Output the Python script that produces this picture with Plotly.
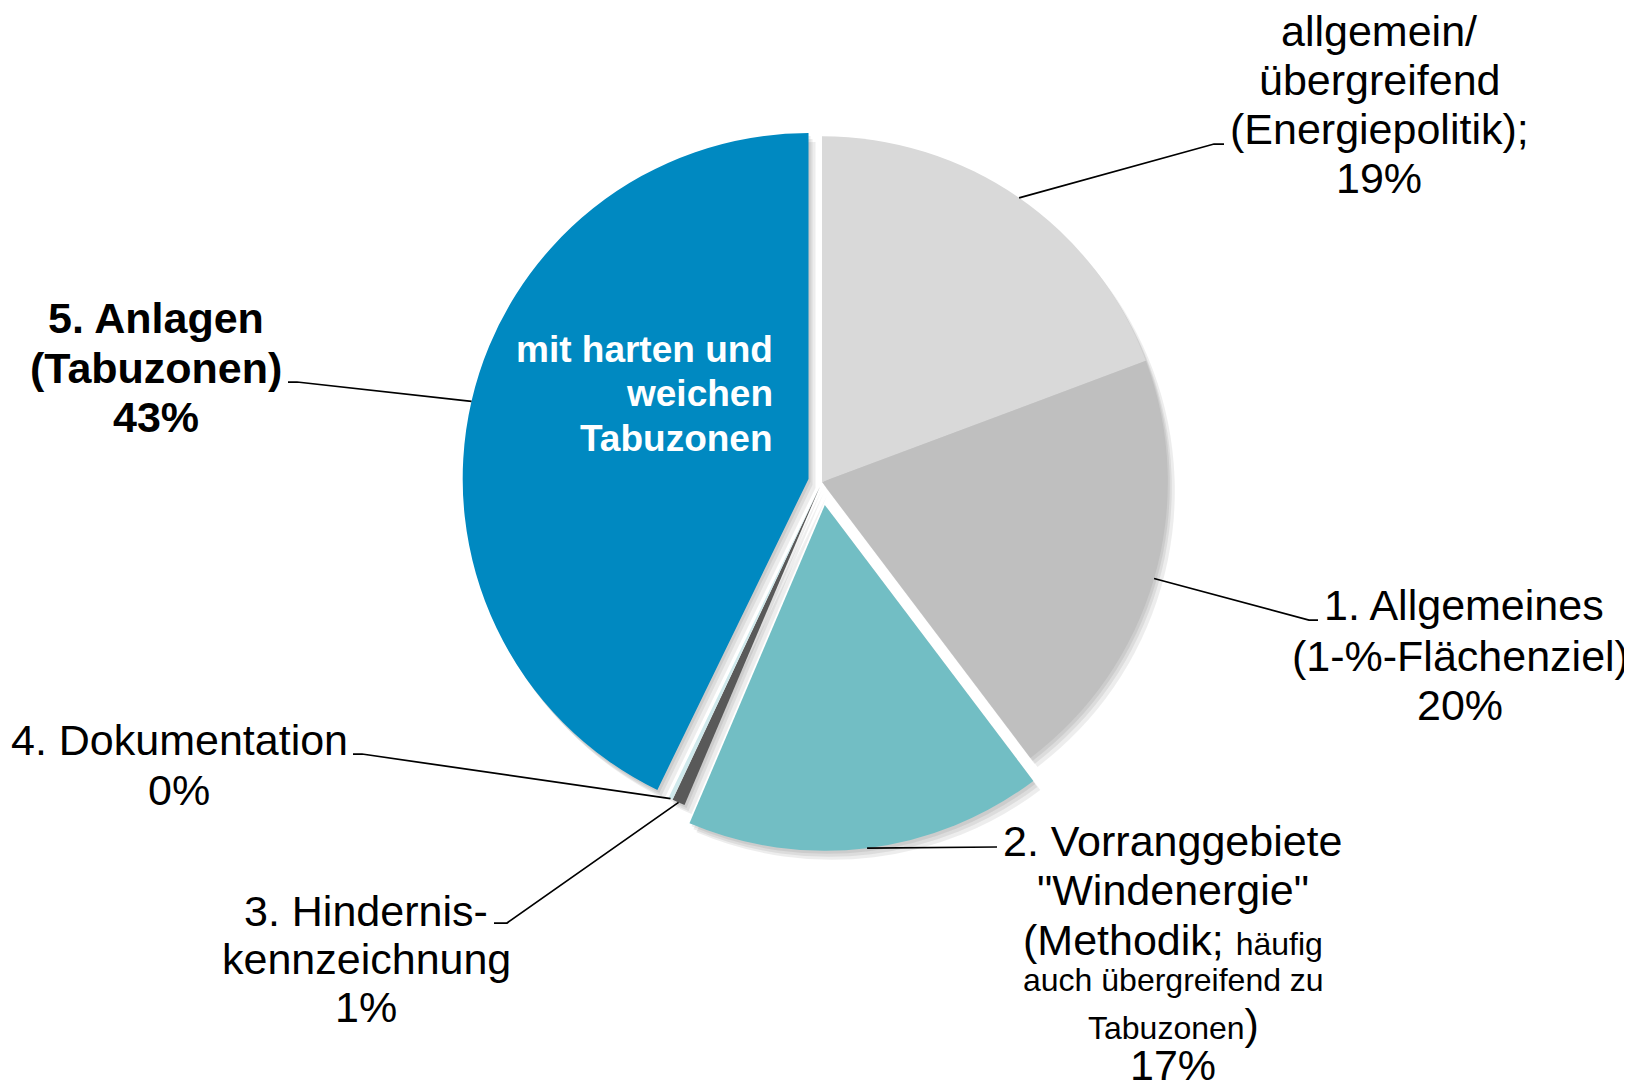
import math

import plotly.graph_objects as go

W, H = 1632, 1089
PAGE_MARGIN = 8  # the browser body margin offsets the figure
FW, FH = W - PAGE_MARGIN, H - PAGE_MARGIN
FONT = "Liberation Sans, Arial, sans-serif"

# slice data, clockwise from 12 o'clock
labels = [
    "allgemein/übergreifend (Energiepolitik)",
    "1. Allgemeines (1-%-Flächenziel)",
    '2. Vorranggebiete "Windenergie"',
    "3. Hinderniskennzeichnung",
    "4. Dokumentation",
    "5. Anlagen (Tabuzonen)",
]
values = [19.3, 20.4, 16.7, 0.6, 0.2, 42.8]
colors = ["#d9d9d9", "#bfbfbf", "#72bec4", "#595959", "#cfe9ec", "#0089c1"]
pulls = [0, 0, 0.067, 0.015, 0.015, 0.04]

# pie box in page pixels
CX, CY, BOX = 822, 482, 738
R = BOX / (2 * (1 + max(pulls)))


def px(x):
    return (x - PAGE_MARGIN) / FW


def py(y):
    return 1 - (y - PAGE_MARGIN) / FH


def domain(dx=0, dy=0):
    return {
        "x": [px(CX - BOX / 2 + dx), px(CX + BOX / 2 + dx)],
        "y": [py(CY + BOX / 2 + dy), py(CY - BOX / 2 + dy)],
    }


def edge_point(i):
    """Point on the outer edge of slice i, at its middle angle."""
    total = sum(values)
    theta = 2 * math.pi * (sum(values[:i]) + values[i] / 2) / total
    d = R * (1 + pulls[i])
    return CX + d * math.sin(theta), CY - d * math.cos(theta)


fig = go.Figure()

# soft drop shadow
for dx, dy in [(2, 3), (4, 6), (7, 9)]:
    fig.add_trace(
        go.Pie(
            values=values,
            marker={"colors": ["rgba(0,0,0,0.07)"] * len(values)},
            pull=pulls,
            sort=False,
            direction="clockwise",
            rotation=0,
            textinfo="none",
            hoverinfo="skip",
            showlegend=False,
            domain=domain(dx, dy),
        )
    )

fig.add_trace(
    go.Pie(
        labels=labels,
        values=values,
        marker={"colors": colors, "line": {"width": 0}},
        pull=pulls,
        sort=False,
        direction="clockwise",
        rotation=0,
        textinfo="none",
        hovertemplate="<b>%{label}</b><br>%{percent}<extra></extra>",
        showlegend=False,
        domain=domain(),
    )
)

pct = [f"{round(v)}%" for v in values]
small = "<span style='font-size:32px'>{}</span>"
big = "<span style='font-size:43px'>{}</span>"

# (lines, center x, line ys, font size)
label_blocks = [
    (["allgemein/", "übergreifend", "(Energiepolitik);", pct[0]], 1379, [31, 80, 129, 178], 43),
    (["1. Allgemeines"], 1464, [605], 43),
    (["(1-%-Flächenziel)", pct[1]], 1460, [656, 705], 43),
    (["2. Vorranggebiete", '"Windenergie"', "(Methodik; " + small.format("häufig")], 1173, [841, 890, 940], 43),
    (["auch übergreifend zu", "Tabuzonen" + big.format(")")], 1173, [980, 1024], 32),
    ([pct[2]], 1173, [1065], 43),
    (["3. Hindernis-", "kennzeichnung", pct[3]], 366, [911, 959, 1007], 43),
    (["4. Dokumentation", pct[4]], 179, [740, 790], 43),
    (["<b>5. Anlagen</b>", "<b>(Tabuzonen)</b>", f"<b>{pct[5]}</b>"], 156, [318, 368, 417], 43),
]

for lines, x, ys, size in label_blocks:
    for text, y in zip(lines, ys):
        fig.add_annotation(
            x=px(x), y=py(y), xref="paper", yref="paper",
            text=text, showarrow=False,
            xanchor="center", yanchor="middle",
            font={"family": FONT, "size": size, "color": "black"},
        )

# white text inside the blue slice
for text, y in zip(["mit harten und", "weichen", "Tabuzonen"], [349, 393, 438]):
    fig.add_annotation(
        x=px(775), y=py(y), xref="paper", yref="paper",
        text=f"<b>{text}</b>", showarrow=False,
        xanchor="right", yanchor="middle",
        font={"family": FONT, "size": 37, "color": "white"},
    )

# leader lines: slice index -> elbow points towards the label
leaders = [
    (0, [(1214, 144), (1224, 144)]),
    (1, [(1309, 620), (1318, 620)]),
    (2, [(997, 847)]),
    (3, [(507, 923), (494, 923)]),
    (4, [(362, 754), (353, 754)]),
    (5, [(297, 382), (288, 382)]),
]
for i, pts in leaders:
    ax, ay = edge_point(i)
    path = f"M {px(ax)},{py(ay)} " + " ".join(f"L {px(x)},{py(y)}" for x, y in pts)
    fig.add_shape(
        type="path", path=path, xref="paper", yref="paper",
        line={"color": "black", "width": 1.75},
    )

fig.update_layout(
    width=FW,
    height=FH,
    margin={"t": 0, "b": 0, "l": 0, "r": 0},
    paper_bgcolor="white",
    plot_bgcolor="white",
    font={"family": FONT},
)

fig.write_html("out.html")
